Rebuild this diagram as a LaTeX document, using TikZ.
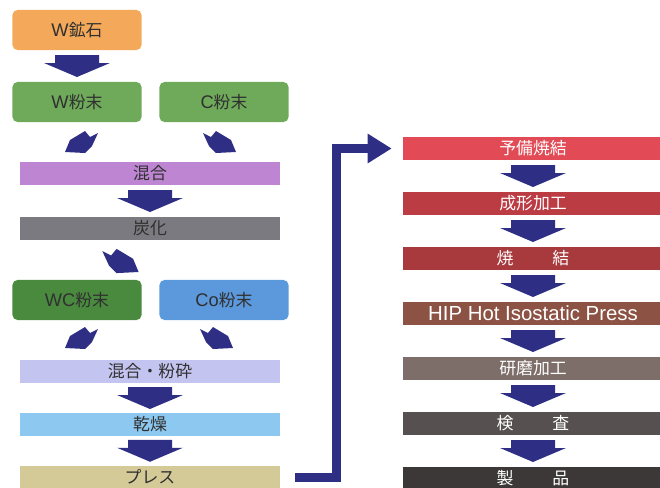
\documentclass[tikz,border=0pt]{standalone}
\usepackage{fontspec}
\setmainfont{Noto Sans CJK JP}
\newfontfamily\latfont{Liberation Sans}
\usetikzlibrary{arrows.meta, calc}

\definecolor{navy}{HTML}{2E2F84}
\definecolor{darktext}{HTML}{303030}
\definecolor{ore}{HTML}{F4A95A}
\definecolor{powder}{HTML}{6FAA5A}
\definecolor{mixc}{HTML}{BE86D2}
\definecolor{carbc}{HTML}{7A7A80}
\definecolor{wcc}{HTML}{4A8A3E}
\definecolor{coc}{HTML}{5C98DC}
\definecolor{millc}{HTML}{C4C4F0}
\definecolor{dryc}{HTML}{8CC8F0}
\definecolor{pressc}{HTML}{D4CA98}
\definecolor{r1}{HTML}{E24A55}
\definecolor{r2}{HTML}{BC3C44}
\definecolor{r3}{HTML}{A83A3E}
\definecolor{r4}{HTML}{8C5244}
\definecolor{r5}{HTML}{7E6E6A}
\definecolor{r6}{HTML}{575050}
\definecolor{r7}{HTML}{3C3838}

\tikzset{
  box/.style={rectangle, rounded corners=0.125cm, minimum width=3.225cm,
    minimum height=1cm, inner sep=0pt, text=darktext},
  band/.style={rectangle, minimum width=6.5cm, minimum height=0.575cm,
    inner sep=0pt, text=darktext},
  rband/.style={band, text=white},
  darrow/.pic={\fill[navy] (-22,-11) -- (22,-11) -- (22,-3) -- (33,-3)
    -- (0,11) -- (-33,-3) -- (-22,-3) -- cycle;},
  sarrow/.pic={\fill[navy] (-16,10) -- (-11,-2) -- (4,-11) -- (9,-5)
    -- (17,-9) -- (11,4) -- (4,11) -- cycle;}
}

\begin{document}
\begin{tikzpicture}[x=0.025cm, y=-0.025cm,
  every node/.style={font=\fontsize{12}{14}\selectfont}]

  \useasboundingbox (0,0) rectangle (660,488);

  % Raw materials
  \node [box, fill=ore] (ore) at (77,30) {{\latfont\fontsize{13}{14}\selectfont W}鉱石};
  \node [box, fill=powder] (wpow) at (77,102) {{\latfont\fontsize{13}{14}\selectfont W}粉末};
  \node [box, fill=powder] (cpow) at (224,102) {{\latfont\fontsize{13}{14}\selectfont C}粉末};

  % Carbide steps
  \node [band, fill=mixc] (mix) at (150,173.5) {混合};
  \node [band, fill=carbc] (carb) at (150,228.5) {炭化};
  \node [box, fill=wcc] (wcpow) at (77,300) {{\latfont\fontsize{13}{14}\selectfont WC}粉末};
  \node [box, fill=coc] (copow) at (224,300) {{\latfont\fontsize{13}{14}\selectfont Co}粉末};
  \node [band, fill=millc] (mill) at (150,371.5) {混合・粉砕};
  \node [band, fill=dryc] (dry) at (150,424.5) {乾燥};
  \node [band, fill=pressc] (press) at (150,477) {プレス};

  % Sintering steps
  \node [rband, fill=r1] (presint) at (533,148.5) {予備焼結};
  \node [rband, fill=r2] (shape) at (533,203.5) {成形加工};
  \node [rband, fill=r3] (sint) at (533,258.5) {焼\hspace{2.3em}結};
  \node [rband, fill=r4, font=\latfont\fontsize{14.5}{16}\selectfont] (hip)
    at (533,313.5) {HIP Hot Isostatic Press};
  \node [rband, fill=r5] (grind) at (533,368.5) {研磨加工};
  \node [rband, fill=r6] (check) at (533,423.5) {検\hspace{2.3em}査};
  \node [rband, fill=r7] (prod) at (533,478.5) {製\hspace{2.3em}品};

  % Down arrows
  \pic at ($(ore.south)!0.5!(wpow.north)$) {darrow};
  \pic at ($(mix.south)!0.5!(carb.north)$) {darrow};
  \pic at ($(mill.south)!0.5!(dry.north)$) {darrow};
  \pic at ($(dry.south)!0.5!(press.north)$) {darrow};
  \foreach \a/\b in {presint/shape, shape/sint, sint/hip, hip/grind,
    grind/check, check/prod}
    \pic at ($(\a.south)!0.5!(\b.north)$) {darrow};

  % Slanted arrows
  \pic at (81,142) {sarrow}; % W to mix
  \pic [xscale=-1] at (220,142) {sarrow}; % C to mix
  \pic [xscale=-1, scale=1.1] at (121,261) {sarrow}; % carb to WC
  \pic at (81,338) {sarrow}; % WC to mill
  \pic [xscale=-1] at (217,338) {sarrow}; % Co to mill

  % Press to presintering
  \draw [navy, line width=0.225cm, line join=miter,
    -{Triangle[length=0.6cm, width=0.7cm]}]
    ([xshift=0.375cm]press.east) -| ([xshift=-1.65cm]presint.west)
    -- ([xshift=-0.275cm]presint.west);
\end{tikzpicture}
\end{document}
